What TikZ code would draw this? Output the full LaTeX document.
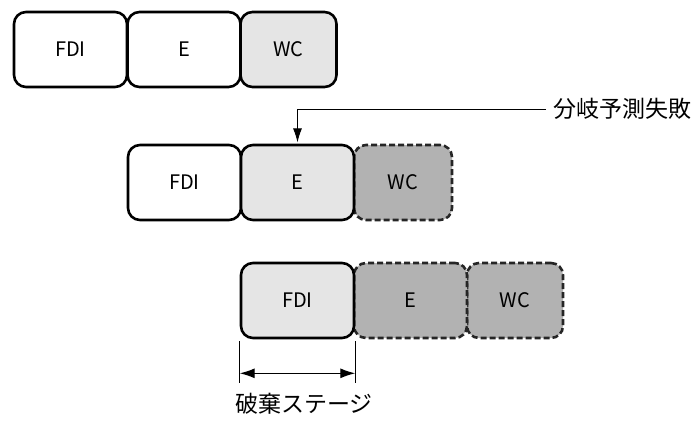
\documentclass[tikz,border=0pt]{standalone}
\usepackage{fontspec}
\setmainfont{Noto Sans CJK JP}
\usetikzlibrary{arrows.meta}
\begin{document}
\begin{tikzpicture}[x=1pt,y=-1pt,
  stage/.style={draw=black, line width=2.6pt, rounded corners=12pt, minimum height=75pt, inner sep=0pt, font=\fontsize{20}{24}\selectfont},
  wide/.style={minimum width=113pt},
  narrow/.style={minimum width=96pt},
  plain/.style={fill=white},
  light/.style={fill=black!10},
  flushed/.style={fill=black!30, draw=black!85, dashed, dash pattern=on 6pt off 3pt},
  lbl/.style={font=\fontsize{23}{27}\selectfont, inner sep=1pt}]
\useasboundingbox (0,0) rectangle (700,423);
% row 1
\node[stage,wide,plain] (f1) at (70.5,49.5) {FDI};
\node[stage,wide,plain] (e1) at (184,49.5) {E};
\node[stage,narrow,light] (w1) at (288.5,49.5) {WC};
% row 2
\node[stage,flushed,minimum width=98pt] (w2) at (403,182.5) {WC};
\node[stage,wide,plain] (f2) at (184.5,182.5) {FDI};
\node[stage,wide,light] (e2) at (297.5,182.5) {E};
% row 3
\node[stage,flushed,narrow] (w3) at (515,300.5) {WC};
\node[stage,flushed,wide] (e3) at (410.5,300.5) {E};
\node[stage,wide,light] (f3) at (297.5,300.5) {FDI};
% branch mispredict label and arrow
\node[lbl, anchor=west, inner xsep=7pt] (bm) at (546,109) {分岐予測失敗};
\draw[line width=0.9pt, -{Latex[length=14pt,width=9pt]}] (bm.west) -| ([yshift=1.3pt]e2.north);
% discard stage dimension
\coordinate (t1) at ([yshift=-2pt]f3.south west);
\coordinate (t2) at ([yshift=-2pt]f3.south east);
\draw[line width=0.9pt] (t1) -- ++(0,42);
\draw[line width=0.9pt] (t2) -- ++(0,42);
\coordinate (a1) at ([yshift=-32pt]t1);
\coordinate (a2) at ([yshift=-32pt]t2);
\draw[line width=1.2pt, {Latex[length=15pt,width=10pt]}-{Latex[length=15pt,width=10pt]}] (a1) -- (a2);
\node[lbl] (ds) at (304,404) {破棄ステージ};
\end{tikzpicture}
\end{document}
